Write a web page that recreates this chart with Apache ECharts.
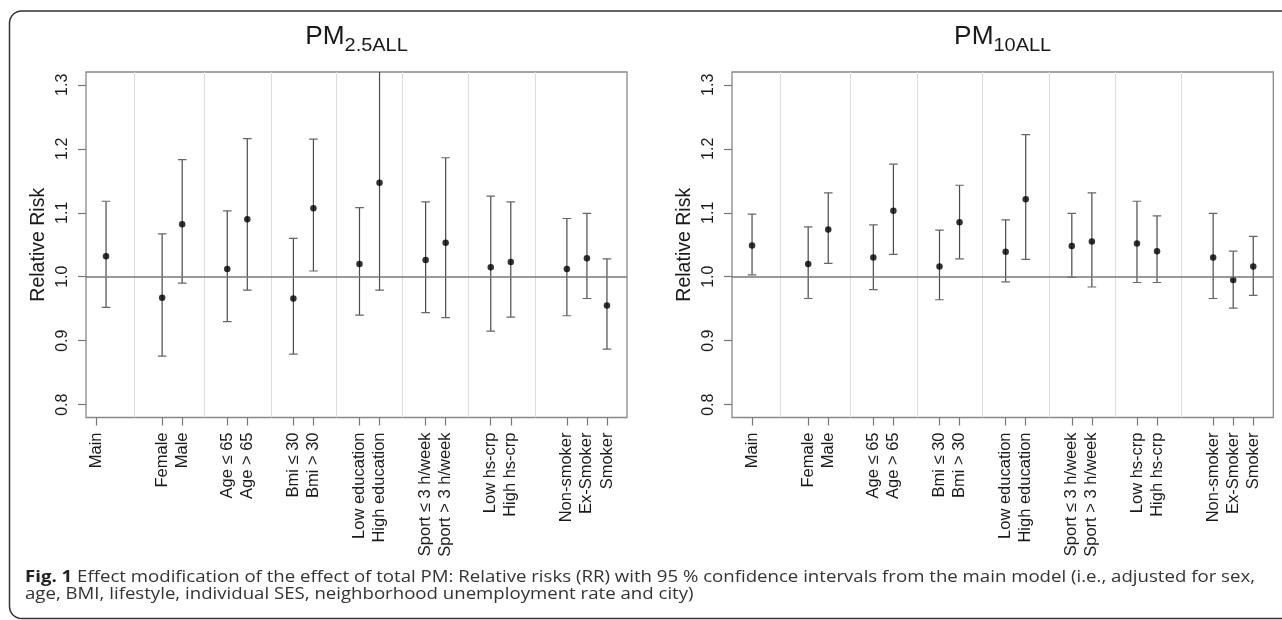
<!DOCTYPE html>
<html>
<head>
<meta charset="utf-8">
<script src="https://cdn.jsdelivr.net/npm/echarts@6/dist/echarts.min.js"></script>
<style>
html,body{margin:0;padding:0;background:#fff;overflow:hidden;}
#c{width:1282px;height:620px;}
</style>
</head>
<body>
<div id="c"></div>
<script>
// ---------- data ----------
const categories = ['Main','Female','Male','Age \u2264 65','Age > 65','Bmi \u2264 30','Bmi > 30',
  'Low education','High education','Sport \u2264 3 h/week','Sport > 3 h/week',
  'Low hs-crp','High hs-crp','Non-smoker','Ex-Smoker','Smoker'];
const xPositions = [0, 2.8, 3.8, 6.05, 7.05, 9.35, 10.35, 12.65, 13.65, 15.95, 16.95, 19.2, 20.2, 23, 24, 25];
const leftLabelPositions = [-0.5, 2.8, 3.8, 6.05, 7.05, 9.35, 10.35, 12.65, 13.65, 15.95, 16.95, 19.2, 20.2, 23, 24, 25];
const separators = [1.4, 4.9, 8.25, 11.5, 14.8, 18.1, 21.4];
const yTicks = [0.8, 0.9, 1.0, 1.1, 1.2, 1.3];
const yLim = [0.8, 1.3];
const refValue = 1.0;

const pm25RR = [1.032, 0.967, 1.082, 1.012, 1.090, 0.966, 1.107, 1.020, 1.147, 1.026, 1.053, 1.015, 1.023, 1.012, 1.029, 0.955];
const pm25Lo = [0.952, 0.876, 0.990, 0.930, 0.979, 0.879, 1.009, 0.940, 0.979, 0.944, 0.936, 0.915, 0.937, 0.939, 0.966, 0.887];
const pm25Hi = [1.118, 1.067, 1.183, 1.103, 1.216, 1.060, 1.215, 1.108, 1.343, 1.117, 1.186, 1.126, 1.117, 1.091, 1.099, 1.028];

const pm10RR = [1.049, 1.020, 1.074, 1.030, 1.103, 1.016, 1.085, 1.039, 1.121, 1.048, 1.055, 1.052, 1.040, 1.030, 0.995, 1.016];
const pm10Lo = [1.003, 0.966, 1.021, 0.980, 1.035, 0.964, 1.028, 0.992, 1.027, 0.999, 0.984, 0.991, 0.991, 0.966, 0.951, 0.971];
const pm10Hi = [1.098, 1.078, 1.131, 1.081, 1.176, 1.073, 1.143, 1.089, 1.222, 1.099, 1.131, 1.118, 1.095, 1.099, 1.040, 1.063];

const titles = [['PM', '2.5ALL'], ['PM', '10ALL']];
const captionBold = 'Fig. 1';
const captionLine1 = ' Effect modification of the effect of total PM: Relative risks (RR) with 95 % confidence intervals from the main model (i.e., adjusted for sex,';
const captionLine2 = 'age, BMI, lifestyle, individual SES, neighborhood unemployment rate and city)';

// ---------- layout ----------
const FONT = '"Liberation Sans", Arial, sans-serif';
const CAPFONT = '"Open Sans", sans-serif';
const grids = [
  {left: 86, top: 72, width: 541, height: 345.5},
  {left: 732, top: 72, width: 541.3, height: 345.5}
];
const xr = Math.max(...xPositions) - Math.min(...xPositions);
const xMin = Math.min(...xPositions) - 0.04 * xr;
const xMax = Math.max(...xPositions) + 0.04 * xr;
const yr = yLim[1] - yLim[0];
const yMin = yLim[0] - 0.04 * yr;
const yMax = yLim[1] + 0.04 * yr;

function xAxisFor(gi, labelPos) {
  return {
    type: 'value', gridIndex: gi, min: xMin, max: xMax,
    axisLine: {show: false, onZero: false},
    splitLine: {show: false},
    axisTick: {show: true, customValues: labelPos, length: 8, lineStyle: {color: '#777', width: 1.2}},
    axisLabel: {
      show: true, customValues: labelPos, rotate: 90, margin: 15,
      fontSize: 16.5, fontFamily: FONT, color: '#1a1a1a',
      formatter: function (v) { const i = labelPos.indexOf(v); return i >= 0 ? categories[i] : ''; }
    }
  };
}
function yAxisFor(gi) {
  return {
    type: 'value', gridIndex: gi, min: yMin, max: yMax,
    name: 'Relative Risk', nameLocation: 'middle', nameRotate: 90, nameGap: 37,
    nameTextStyle: {fontSize: 19.5, fontFamily: FONT, color: '#1a1a1a'},
    axisLine: {show: false, onZero: false},
    splitLine: {show: false},
    axisTick: {show: true, customValues: yTicks, length: 8, lineStyle: {color: '#777', width: 1.2}},
    axisLabel: {
      show: true, customValues: yTicks, rotate: 90, margin: 15,
      align: 'center', verticalAlign: 'bottom',
      fontSize: 16, fontFamily: FONT, color: '#1a1a1a',
      formatter: function (v) { return v.toFixed(1); }
    }
  };
}

function errorSeries(gi, lo, hi) {
  return {
    type: 'custom', xAxisIndex: gi, yAxisIndex: gi, clip: true, z: 3,
    data: xPositions.map((x, i) => [x, lo[i], hi[i]]),
    renderItem: function (params, api) {
      const x = api.value(0);
      const pLo = api.coord([x, api.value(1)]);
      const pHi = api.coord([x, api.value(2)]);
      const cw = 4.3;
      const cs = params.coordSys;
      return {
        type: 'group',
        clipPath: {type: 'rect', shape: {x: cs.x, y: cs.y, width: cs.width, height: cs.height}},
        children: [
          {type: 'line', shape: {x1: pLo[0], y1: pLo[1], x2: pHi[0], y2: pHi[1]}, style: {stroke: '#4a4a4a', lineWidth: 1.2}},
          {type: 'line', shape: {x1: pLo[0] - cw, y1: pLo[1], x2: pLo[0] + cw, y2: pLo[1]}, style: {stroke: '#666', lineWidth: 1.2}},
          {type: 'line', shape: {x1: pHi[0] - cw, y1: pHi[1], x2: pHi[0] + cw, y2: pHi[1]}, style: {stroke: '#666', lineWidth: 1.2}}
        ]
      };
    }
  };
}
function pointSeries(gi, rr) {
  return {
    type: 'scatter', xAxisIndex: gi, yAxisIndex: gi, z: 4,
    symbol: 'circle', symbolSize: 6.5,
    itemStyle: {color: '#000'},
    data: xPositions.map((x, i) => [x, rr[i]]),
    silent: true
  };
}
function refSeries(gi) {
  return {
    type: 'line', xAxisIndex: gi, yAxisIndex: gi, data: [], z: 1,
    markLine: {
      silent: true, symbol: 'none', label: {show: false}, animation: false,
      data: separators.map(v => ({xAxis: v, lineStyle: {color: '#dcdcdc', width: 1, type: 'solid'}}))
        .concat([{yAxis: refValue, lineStyle: {color: '#777', width: 1.5, type: 'solid'}}])
    }
  };
}

// titles via measured text
const mctx = document.createElement('canvas').getContext('2d');
function titleGraphics(cx, parts) {
  const sx = 1.05;
  mctx.font = '25px ' + FONT; const w1 = mctx.measureText(parts[0]).width * sx;
  mctx.font = '19px ' + FONT; const w2 = mctx.measureText(parts[1]).width * sx;
  const x0 = cx - (w1 + w2) / 2;
  return [
    {type: 'text', x: x0, y: 37.5, scaleX: sx, style: {text: parts[0], fontSize: 25, fontFamily: FONT, fill: '#1a1a1a', align: 'left', verticalAlign: 'middle'}},
    {type: 'text', x: x0 + w1, y: 46.2, scaleX: sx, style: {text: parts[1], fontSize: 19, fontFamily: FONT, fill: '#1a1a1a', align: 'left', verticalAlign: 'middle'}}
  ];
}

// caption stretched to the reference line length
const capSize = 16.5;
mctx.font = 'bold ' + capSize + 'px ' + CAPFONT; const wb = mctx.measureText(captionBold).width;
mctx.font = capSize + 'px ' + CAPFONT; const wn = mctx.measureText(captionLine1).width;
const capScale = 1230 / (wb + wn);

// open frame (left side rounded, no right side)
function framePoints() {
  const L = 9.5, T = 11, B = 618.5, R = 1295, r = 12, pts = [[R, T]];
  // top-left corner: from (L+r, T) to (L, T+r)
  for (let k = 0; k <= 8; k++) { const a = -Math.PI / 2 - k * Math.PI / 16; pts.push([L + r + r * Math.cos(a), T + r + r * Math.sin(a)]); }
  // bottom-left corner: from (L, B-r) to (L+r, B)
  for (let k = 0; k <= 8; k++) { const a = Math.PI - k * Math.PI / 16; pts.push([L + r + r * Math.cos(a), B - r + r * Math.sin(a)]); }
  pts.push([R, B]);
  return pts;
}

const graphics = [
  {type: 'polyline', z: 0, shape: {points: framePoints()}, style: {fill: null, stroke: '#333', lineWidth: 1.5}}
].concat(titleGraphics(grids[0].left + grids[0].width / 2, titles[0]))
 .concat(titleGraphics(grids[1].left + grids[1].width / 2, titles[1]))
 .concat([
  {type: 'text', x: 25, y: 577.5, scaleX: capScale, style: {
    text: '{b|' + captionBold + '}{n|' + captionLine1 + '}',
    rich: {
      b: {fontWeight: 'bold', fontSize: capSize, fontFamily: CAPFONT, fill: '#222'},
      n: {fontSize: capSize, fontFamily: CAPFONT, fill: '#333'}
    },
    align: 'left', verticalAlign: 'middle'}},
  {type: 'text', x: 25, y: 594.5, scaleX: capScale, style: {text: captionLine2, fontSize: capSize, fontFamily: CAPFONT, fill: '#333', align: 'left', verticalAlign: 'middle'}}
 ]);

const chart = echarts.init(document.getElementById('c'), null, {renderer: 'canvas'});
chart.setOption({
  animation: false,
  backgroundColor: '#fff',
  grid: grids.map(g => Object.assign({show: true, borderColor: '#888', borderWidth: 1.3, backgroundColor: 'transparent', containLabel: false}, g)),
  xAxis: [xAxisFor(0, leftLabelPositions), xAxisFor(1, xPositions)],
  yAxis: [yAxisFor(0), yAxisFor(1)],
  series: [
    refSeries(0), errorSeries(0, pm25Lo, pm25Hi), pointSeries(0, pm25RR),
    refSeries(1), errorSeries(1, pm10Lo, pm10Hi), pointSeries(1, pm10RR)
  ],
  graphic: graphics
});
</script>
</body>
</html>
